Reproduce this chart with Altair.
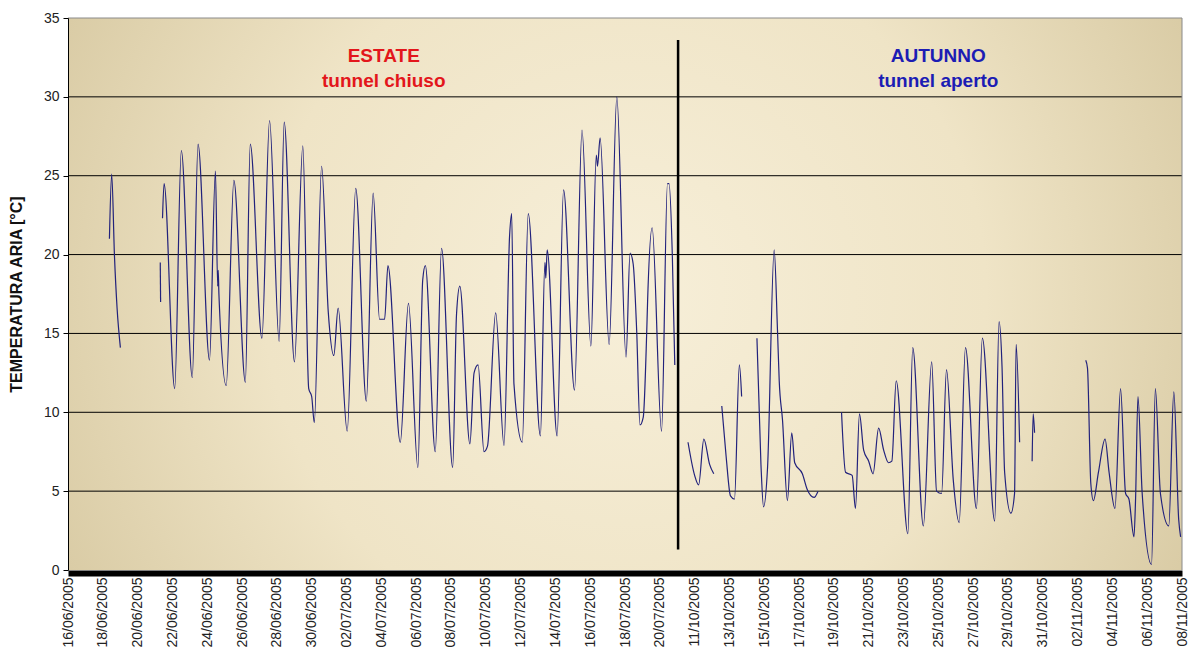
import json
import altair as alt
import pandas as pd

# ---------------- data ----------------
# x = day index along the (category-like) date axis, y = air temperature in °C
DATE_LABELS = [
    "16/06/2005", "18/06/2005", "20/06/2005", "22/06/2005", "24/06/2005",
    "26/06/2005", "28/06/2005", "30/06/2005", "02/07/2005", "04/07/2005",
    "06/07/2005", "08/07/2005", "10/07/2005", "12/07/2005", "14/07/2005",
    "16/07/2005", "18/07/2005", "20/07/2005",
    "11/10/2005", "13/10/2005", "15/10/2005", "17/10/2005", "19/10/2005",
    "21/10/2005", "23/10/2005", "25/10/2005", "27/10/2005", "29/10/2005",
    "31/10/2005", "02/11/2005", "04/11/2005", "06/11/2005", "08/11/2005",
]
TICK_POS = list(range(0, 65, 2))
Y_TICKS = [0, 5, 10, 15, 20, 25, 30, 35]
GRID_VALUES = [5, 10, 15, 20, 25, 30]

SEG_SUMMER_1 = [(2.38, 21.0), (2.51, 25.1), (2.67, 19.9), (2.82, 16.6), (3.01, 14.1)]
SEG_SUMMER_2 = [(5.30, 19.5), (5.32, 17.0)]
SEG_SUMMER_3 = [
    (5.43, 22.3), (5.52, 24.5), (6.13, 11.5), (6.51, 26.6), (7.14, 12.2),
    (7.47, 27.0), (8.13, 13.3), (8.47, 25.3), (8.60, 18.0), (8.63, 19.0),
    (8.67, 17.5), (9.09, 11.7), (9.53, 24.7), (10.19, 11.9), (10.47, 27.0),
    (11.14, 14.7), (11.58, 28.5), (12.13, 14.5), (12.42, 28.4), (13.01, 13.2),
    (13.49, 26.9), (13.83, 11.5), (14.00, 11.0), (14.15, 9.35), (14.57, 25.6),
    (14.95, 16.4), (15.27, 13.6), (15.52, 16.6), (16.04, 8.8), (16.53, 24.2),
    (17.14, 10.7), (17.53, 23.9), (17.90, 15.9), (18.19, 15.9), (18.38, 19.3),
    (19.09, 8.1), (19.56, 16.9), (20.10, 6.5), (20.38, 18.4), (20.53, 19.3),
    (21.10, 7.5), (21.46, 20.4), (22.10, 6.5), (22.32, 16.2), (22.51, 18.0),
    (23.09, 8.0), (23.33, 12.5), (23.56, 13.0), (23.90, 7.5), (24.10, 7.85),
    (24.57, 16.3), (25.05, 7.9), (25.37, 21.2), (25.49, 22.6), (25.62, 11.8),
    (26.10, 8.1), (26.44, 22.6), (27.14, 8.5), (27.40, 19.5), (27.45, 18.5),
    (27.53, 20.3), (28.10, 8.5), (28.47, 24.1), (29.10, 11.4), (29.53, 27.9),
    (30.04, 14.2), (30.35, 26.3), (30.42, 25.6), (30.57, 27.4), (31.09, 14.3),
    (31.53, 30.0), (32.06, 13.5), (32.29, 20.1), (32.47, 19.4), (32.67, 15.2),
    (32.86, 9.2), (33.05, 9.7), (33.24, 14.8), (33.30, 17.1), (33.56, 21.7),
    (34.10, 8.8), (34.44, 24.5), (34.53, 24.5), (34.72, 19.9), (34.86, 13.0),
]
SEG_AUTUMN_1 = [(35.62, 8.1), (36.00, 6.0), (36.23, 5.4), (36.53, 8.3), (36.86, 6.7), (37.10, 6.1)]
SEG_AUTUMN_2 = [(37.56, 10.4), (37.81, 7.2), (38.06, 4.7), (38.29, 4.5), (38.57, 13.0), (38.70, 11.0)]
SEG_AUTUMN_3 = [
    (39.58, 14.7), (39.81, 6.7), (39.96, 4.0), (40.19, 6.5), (40.57, 20.3),
    (40.76, 15.2), (40.86, 12.0), (41.05, 9.5), (41.33, 4.4), (41.58, 8.7),
    (41.75, 6.8), (42.19, 6.1), (42.47, 5.1), (42.86, 4.6), (43.09, 5.0),
]
SEG_AUTUMN_4 = [
    (44.44, 10.0), (44.67, 6.2), (45.05, 6.0), (45.24, 3.9), (45.47, 9.9),
    (45.71, 7.6), (46.00, 6.9), (46.25, 6.1), (46.57, 9.0), (46.86, 7.6),
    (47.14, 6.8), (47.33, 6.9), (47.58, 12.0), (48.25, 2.3), (48.53, 14.1),
    (49.14, 2.8), (49.62, 13.2), (49.90, 5.0), (50.19, 4.85), (50.47, 12.7),
    (50.86, 5.7), (51.20, 3.0), (51.56, 14.1), (52.19, 3.9), (52.53, 14.7),
    (53.24, 3.1), (53.49, 15.75), (53.66, 12.9), (53.81, 6.2), (54.17, 3.6),
    (54.38, 4.85), (54.47, 14.3), (54.67, 8.1),
]
SEG_AUTUMN_5 = [(55.39, 6.9), (55.45, 9.9), (55.53, 8.7)]
SEG_AUTUMN_6 = [
    (58.47, 13.3), (58.57, 12.8), (58.76, 5.5), (58.91, 4.4), (59.20, 6.2),
    (59.58, 8.3), (59.81, 6.2), (60.15, 3.9), (60.47, 11.5), (60.76, 4.85),
    (60.95, 4.5), (61.24, 2.1), (61.33, 4.4), (61.47, 11.0), (61.71, 4.9),
    (62.25, 0.35), (62.47, 11.5), (62.76, 4.85), (63.24, 2.8), (63.53, 11.3),
    (63.81, 3.2), (63.92, 2.1),
]
SEGMENTS = [SEG_SUMMER_1, SEG_SUMMER_2, SEG_SUMMER_3, SEG_AUTUMN_1, SEG_AUTUMN_2,
            SEG_AUTUMN_3, SEG_AUTUMN_4, SEG_AUTUMN_5, SEG_AUTUMN_6]

DIVIDER_DAY = 35.05
DIVIDER_RANGE = [1.3, 33.6]

ANNOT_TEXT = ["ESTATE", "tunnel chiuso", "AUTUNNO", "tunnel aperto"]
ANNOT_DAY = [18.14, 18.14, 50.0, 50.0]
ANNOT_TEMP = [32.2, 30.65, 32.2, 30.65]
ANNOT_COLOR = ["#e3161b", "#e3161b", "#1c1cb4", "#1c1cb4"]

# ---------------- tables ----------------
rows = []
for s, seg in enumerate(SEGMENTS):
    for i, (d, t) in enumerate(seg):
        rows.append({"seg": s, "idx": i, "day": d, "temp": t})
line_df = pd.DataFrame(rows)
grid_df = pd.DataFrame({"v": GRID_VALUES})
div_df = pd.DataFrame({"day": [DIVIDER_DAY], "t0": [DIVIDER_RANGE[0]], "t1": [DIVIDER_RANGE[1]]})
annot_df = pd.DataFrame({"text": ANNOT_TEXT, "day": ANNOT_DAY, "temp": ANNOT_TEMP, "color": ANNOT_COLOR})
one_df = pd.DataFrame({"a": [0]})

W, H = 1114, 552
FONT = "Liberation Sans"
XS = alt.Scale(domain=[0, 64], nice=False, zero=False)
YS = alt.Scale(domain=[0, 35], nice=False, zero=True)

label_expr = json.dumps(DATE_LABELS) + "[round(datum.value / 2)]"

X_AXIS = alt.Axis(
    values=TICK_POS, labelExpr=label_expr, labelAngle=270, labelAlign="right",
    labelBaseline="middle", title=None, grid=False, ticks=False, tickSize=0,
    domainWidth=6, domainColor="#000000", offset=3, labelPadding=4,
    labelFontSize=14, labelFont=FONT, labelColor="#222222", labelFlush=False,
    labelOverlap=False, labelBound=False, zindex=1,
)
Y_AXIS = alt.Axis(
    values=Y_TICKS, title="TEMPERATURA ARIA [°C]", grid=False, tickSize=5,
    tickColor="#000000", domainColor="#000000", labelFontSize=14, labelFont=FONT,
    labelColor="#222222", labelPadding=4, titleFont=FONT, titleFontSize=16,
    titleFontWeight="bold", titleColor="#111111", titleX=-52, titleY=H / 2,
    titleAngle=270, titleAlign="center", titleBaseline="middle", zindex=1,
)

gradient = {
    "gradient": "radial",
    "x1": 0.5, "y1": 0.5, "r1": 0.0,
    "x2": 0.5, "y2": 0.5, "r2": 0.72,
    "stops": [
        {"offset": 0.0, "color": "#f7efd9"},
        {"offset": 0.45, "color": "#efe4c6"},
        {"offset": 1.0, "color": "#cbbb8f"},
    ],
}

bg = alt.Chart(one_df).mark_rect(fill=gradient, strokeWidth=0).encode(
    x=alt.datum(0, scale=XS, axis=X_AXIS), x2=alt.datum(64),
    y=alt.datum(0, scale=YS, axis=Y_AXIS), y2=alt.datum(35),
)

grid = alt.Chart(grid_df).mark_rule(color="#000000", strokeWidth=1).encode(
    y=alt.Y("v:Q", scale=YS, axis=Y_AXIS)
)

border_top = alt.Chart(one_df).mark_rule(color="#8a8a8a", strokeWidth=1).encode(
    y=alt.datum(35, scale=YS, axis=Y_AXIS)
)
border_right = alt.Chart(one_df).mark_rule(color="#8a8a8a", strokeWidth=1).encode(
    x=alt.datum(64, scale=XS, axis=X_AXIS)
)

lines = alt.Chart(line_df).mark_line(
    color="#22227c", strokeWidth=1.2, interpolate="monotone"
).encode(
    x=alt.X("day:Q", scale=XS, axis=X_AXIS),
    y=alt.Y("temp:Q", scale=YS, axis=Y_AXIS),
    detail="seg:N",
    order="idx:Q",
)

divider = alt.Chart(div_df).mark_rule(color="#000000", strokeWidth=2.5).encode(
    x=alt.X("day:Q", scale=XS, axis=X_AXIS),
    y=alt.Y("t0:Q", scale=YS, axis=Y_AXIS),
    y2="t1:Q",
)

annots = alt.Chart(annot_df).mark_text(
    font=FONT, fontSize=19, fontWeight="bold", align="center", baseline="alphabetic"
).encode(
    x=alt.X("day:Q", scale=XS, axis=X_AXIS),
    y=alt.Y("temp:Q", scale=YS, axis=Y_AXIS),
    text="text:N",
    color=alt.Color("color:N", scale=None),
)

chart = alt.layer(bg, grid, border_top, border_right, lines, divider, annots).properties(
    width=W, height=H,
    padding={"left": 60, "top": 10, "right": 9, "bottom": 82},
    autosize=alt.AutoSizeParams(type="none"),
    background="#ffffff",
).configure_view(stroke=None)

chart.save("out.html", embed_options={"renderer": "svg", "actions": False})
